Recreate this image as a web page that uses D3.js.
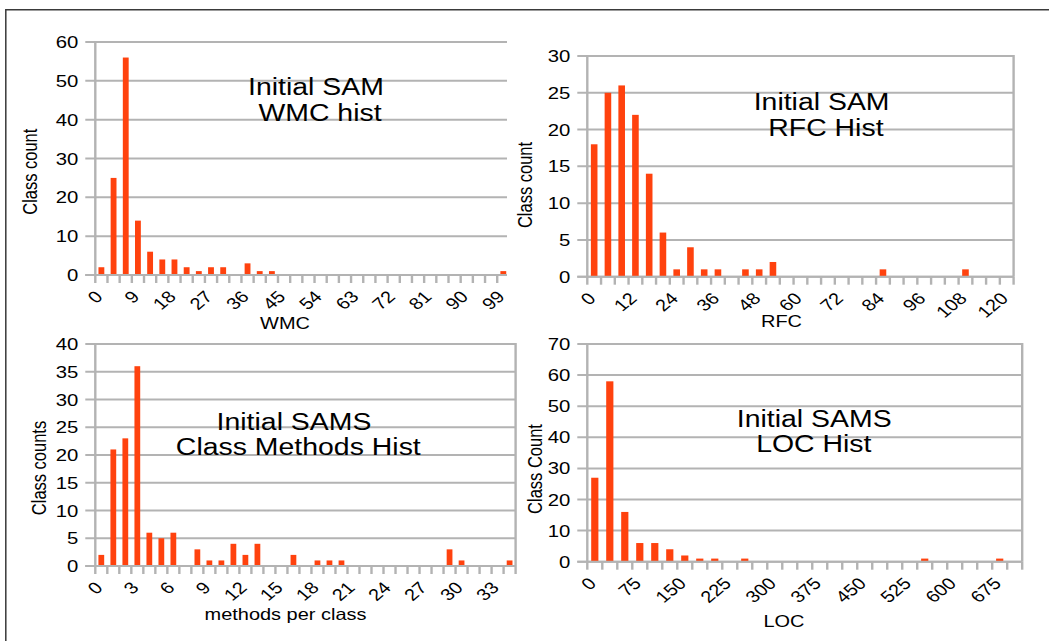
<!DOCTYPE html>
<html><head><meta charset="utf-8">
<script src="https://cdn.jsdelivr.net/npm/d3@7"></script>
<style>
html,body{margin:0;padding:0;background:#fff;}
svg text{font-family:"Liberation Sans",Arial,sans-serif;fill:#000;}
</style></head>
<body><svg id="chart" width="1049" height="641"></svg>
<script>
// ---------- DATA ----------
const wmcBins = [0,3,6,9,12,15,18,21,24,27,30,33,36,39,42,45,48,51,54,57,60,63,66,69,72,75,78,81,84,87,90,93,96,99];
const wmcCounts = [2,25,56,14,6,4,4,2,1,2,2,0,3,1,1,0,0,0,0,0,0,0,0,0,0,0,0,0,0,0,0,0,0,1];
const wmcTickLabels = ["0","9","18","27","36","45","54","63","72","81","90","99"];
const wmcYTicks = [0,10,20,30,40,50,60];

const rfcBins = [0,4,8,12,16,20,24,28,32,36,40,44,48,52,56,60,64,68,72,76,80,84,88,92,96,100,104,108,112,116,120];
const rfcCounts = [18,25,26,22,14,6,1,4,1,1,0,1,1,2,0,0,0,0,0,0,0,1,0,0,0,0,0,1,0,0,0];
const rfcTickLabels = ["0","12","24","36","48","60","72","84","96","108","120"];
const rfcYTicks = [0,5,10,15,20,25,30];

const methBins = [0,1,2,3,4,5,6,7,8,9,10,11,12,13,14,15,16,17,18,19,20,21,22,23,24,25,26,27,28,29,30,31,32,33,34];
const methCounts = [2,21,23,36,6,5,6,0,3,1,1,4,2,4,0,0,2,0,1,1,1,0,0,0,0,0,0,0,0,3,1,0,0,0,1];
const methTickLabels = ["0","3","6","9","12","15","18","21","24","27","30","33"];
const methYTicks = [0,5,10,15,20,25,30,35,40];

const locBins = [0,25,50,75,100,125,150,175,200,225,250,275,300,325,350,375,400,425,450,475,500,525,550,575,600,625,650,675,700];
const locCounts = [27,58,16,6,6,4,2,1,1,0,1,0,0,0,0,0,0,0,0,0,0,0,1,0,0,0,0,1,0];
const locTickLabels = ["0","75","150","225","300","375","450","525","600","675"];
const locYTicks = [0,10,20,30,40,50,60,70];

const titles = [["Initial SAM","WMC hist"],["Initial SAM","RFC Hist"],["Initial SAMS","Class Methods Hist"],["Initial SAMS","LOC Hist"]];
const xTitles = ["WMC","RFC","methods per class","LOC"];
const yTitles = ["Class count","Class count","Class counts","Class Count"];

// ---------- LAYOUT ----------
const SX = 1.21;          // horizontal stretch of glyphs in the reference
const BAR = "#ff420e", GRID = "#b3b3b3";
const panels = [
  {bins:wmcBins, counts:wmcCounts, labels:wmcTickLabels, yt:wmcYTicks, every:3,
   left:95.3, right:507, xEnd:509.4, top:42, bottom:275, border:false,
   title:titles[0], tx:[316,320], ty:[95,120.7], xt:xTitles[0], xtx:285, xty:328.5, yt2:yTitles[0], ytx:30, yty:171.7},
  {bins:rfcBins, counts:rfcCounts, labels:rfcTickLabels, yt:rfcYTicks, every:3,
   left:587.3, right:1013.6, xEnd:1013.6, top:56, bottom:276.7, border:true,
   title:titles[1], tx:[821.6,825.9], ty:[110,135.7], xt:xTitles[1], xtx:781.5, xty:326.8, yt2:yTitles[1], ytx:524.6, yty:185},
  {bins:methBins, counts:methCounts, labels:methTickLabels, yt:methYTicks, every:3,
   left:95.3, right:515.6, xEnd:515.6, top:344, bottom:566, border:true,
   title:titles[2], tx:[294,298.3], ty:[430,455], xt:xTitles[2], xtx:285.5, xty:619.5, yt2:yTitles[2], ytx:38.7, yty:468},
  {bins:locBins, counts:locCounts, labels:locTickLabels, yt:locYTicks, every:3,
   left:587.3, right:1022.2, xEnd:1022.2, top:344, bottom:561.7, border:true,
   title:titles[3], tx:[814.2,813.8], ty:[426.7,452.3], xt:xTitles[3], xtx:784, xty:626.8, yt2:yTitles[3], ytx:534.6, yty:469}
];

const svg = d3.select("#chart");

// outer frame
svg.append("path").attr("d","M5.8,641 L5.8,9.7 L1049,9.7").attr("fill","none").attr("stroke","#3a3a3a").attr("stroke-width",1.5);

function txt(g, x, y, s, o={}) {
  g.append("text")
    .attr("transform", `translate(${x},${y}) scale(${SX},1) rotate(${o.rot||0})`)
    .attr("text-anchor", o.anchor||"middle")
    .attr("dy", o.dy||0)
    .style("font-size", (o.fs||16.5)+"px")
    .text(s);
}

panels.forEach((p,pi)=>{
  const g = svg.append("g");
  const x = d3.scaleBand().domain(p.bins).range([p.left, p.xEnd]).padding(0);
  const yMax = p.yt[p.yt.length-1];
  const y = d3.scaleLinear().domain([0,yMax]).range([p.bottom, p.top]);
  const bw = x.bandwidth();

  // gridlines + y ticks
  g.selectAll("line.grid").data(p.yt).join("line")
    .attr("x1", p.left-10).attr("x2", p.right)
    .attr("y1", d=>y(d)).attr("y2", d=>y(d))
    .attr("stroke", GRID).attr("stroke-width", 2);

  // bars
  const clipId = "clip"+pi;
  g.append("clipPath").attr("id",clipId).append("rect")
    .attr("x",p.left).attr("y",p.top-2).attr("width",p.right-p.left).attr("height",p.bottom-p.top+4);
  g.append("g").attr("clip-path",`url(#${clipId})`)
    .selectAll("rect").data(p.bins.map((b,i)=>({b, v:p.counts[i]})).filter(d=>d.v>0)).join("rect")
    .attr("x", d=>x(d.b)+bw*0.26).attr("width", bw*0.48)
    .attr("y", d=>y(d.v)).attr("height", d=>y(0)-y(d.v))
    .attr("fill", BAR);

  // x-axis ticks at category boundaries
  const bounds = p.bins.map(b=>x(b)).concat([x(p.bins[p.bins.length-1])+bw]).filter(v=>v<=p.right+0.5);
  g.selectAll("line.xt").data(bounds).join("line")
    .attr("x1", d=>d).attr("x2", d=>d).attr("y1", y(0)).attr("y2", y(0)+8)
    .attr("stroke", GRID).attr("stroke-width", 2.4);
  // y axis line
  g.append("line").attr("x1",p.left).attr("x2",p.left).attr("y1",p.top-1).attr("y2",p.bottom)
    .attr("stroke",GRID).attr("stroke-width",2.4);
  if (p.border) g.append("line").attr("x1",p.right).attr("x2",p.right).attr("y1",p.top-1).attr("y2",p.bottom)
    .attr("stroke",GRID).attr("stroke-width",2.4);
  // x axis line
  g.append("line").attr("x1",p.left-10).attr("x2",p.right).attr("y1",y(0)).attr("y2",y(0))
    .attr("stroke",GRID).attr("stroke-width",2);

  // y tick labels
  p.yt.forEach(v=> txt(g, p.left-17, y(v), String(v), {anchor:"end", dy:"0.36em", fs:16.8}));
  // x tick labels
  p.labels.forEach((lab,i)=>{
    const b = p.bins[i*p.every];
    txt(g, x(b)+bw/2-2.5, y(0)+18.5, lab, {anchor:"end", dy:"0.36em", rot:-45, fs:16.5});
  });
  // titles
  txt(g, p.tx[0], p.ty[0], p.title[0], {fs:23.5});
  txt(g, p.tx[1], p.ty[1], p.title[1], {fs:23.5});
  // axis titles
  txt(g, p.xtx, p.xty, p.xt, {fs:16.5});
  txt(g, p.ytx, p.yty, p.yt2, {rot:-90, dy:"0.36em", fs:16.5});
});
</script></body></html>
